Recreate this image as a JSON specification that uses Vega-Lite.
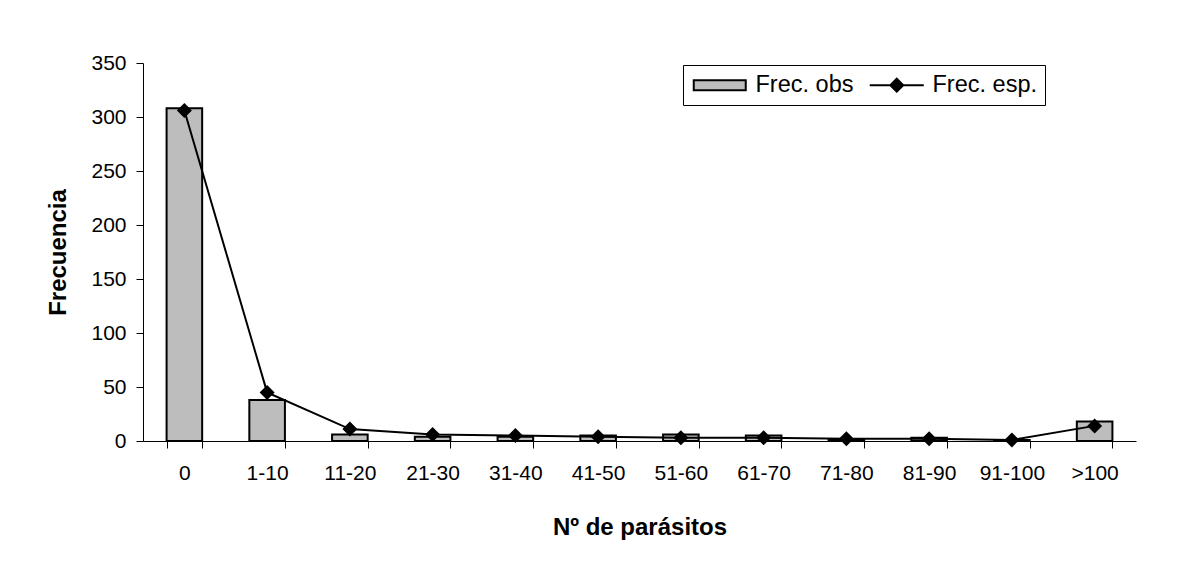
{
  "$schema": "https://vega.github.io/schema/vega-lite/v6.json",
  "autosize": {"type": "none"},
  "width": 993,
  "height": 378,
  "padding": {"left": 143, "top": 63, "right": 44, "bottom": 125},
  "background": "white",
  "config": {
    "font": "Liberation Sans",
    "view": {"stroke": null},
    "axis": {
      "domainColor": "black",
      "tickColor": "black",
      "labelColor": "black",
      "titleColor": "black",
      "labelFont": "Liberation Sans",
      "titleFont": "Liberation Sans",
      "labelFontSize": 21,
      "titleFontSize": 24,
      "titleFontWeight": "bold",
      "grid": false,
      "domainWidth": 1,
      "tickWidth": 1
    },
    "legend": {
      "orient": "none",
      "legendX": 540,
      "legendY": 2,
      "direction": "horizontal",
      "strokeColor": "black",
      "fillColor": "white",
      "padding": 8,
      "symbolSize": 400,
      "symbolOffset": 17,
      "symbolStrokeWidth": 2,
      "labelFont": "Liberation Sans",
      "labelFontSize": 23.5,
      "labelColor": "black",
      "labelOffset": 24,
      "columnPadding": 11,
      "symbolOpacity": 1
    }
  },
  "data": {
    "values": [
      {"cat": "0", "serie": "Frec. obs", "v": 308},
      {"cat": "1-10", "serie": "Frec. obs", "v": 38},
      {"cat": "11-20", "serie": "Frec. obs", "v": 6},
      {"cat": "21-30", "serie": "Frec. obs", "v": 4},
      {"cat": "31-40", "serie": "Frec. obs", "v": 4},
      {"cat": "41-50", "serie": "Frec. obs", "v": 5},
      {"cat": "51-60", "serie": "Frec. obs", "v": 6},
      {"cat": "61-70", "serie": "Frec. obs", "v": 5},
      {"cat": "71-80", "serie": "Frec. obs", "v": 1},
      {"cat": "81-90", "serie": "Frec. obs", "v": 3},
      {"cat": "91-100", "serie": "Frec. obs", "v": 1},
      {"cat": ">100", "serie": "Frec. obs", "v": 18},
      {"cat": "0", "serie": "Frec. esp.", "v": 306},
      {"cat": "1-10", "serie": "Frec. esp.", "v": 45},
      {"cat": "11-20", "serie": "Frec. esp.", "v": 11},
      {"cat": "21-30", "serie": "Frec. esp.", "v": 6},
      {"cat": "31-40", "serie": "Frec. esp.", "v": 5},
      {"cat": "41-50", "serie": "Frec. esp.", "v": 4},
      {"cat": "51-60", "serie": "Frec. esp.", "v": 3},
      {"cat": "61-70", "serie": "Frec. esp.", "v": 3},
      {"cat": "71-80", "serie": "Frec. esp.", "v": 2},
      {"cat": "81-90", "serie": "Frec. esp.", "v": 2},
      {"cat": "91-100", "serie": "Frec. esp.", "v": 1},
      {"cat": ">100", "serie": "Frec. esp.", "v": 14}
    ]
  },
  "encoding": {
    "x": {
      "field": "cat",
      "type": "nominal",
      "sort": null,
      "scale": {"paddingInner": 0.57, "paddingOuter": 0.285},
      "axis": {
        "title": "Nº de parásitos",
        "labelAngle": 0,
        "tickBand": "extent",
        "tickSize": 7,
        "labelPadding": 14,
        "titlePadding": 32
      }
    },
    "y": {
      "field": "v",
      "type": "quantitative",
      "scale": {"domain": [0, 350], "nice": false},
      "axis": {
        "title": "Frecuencia",
        "values": [0, 50, 100, 150, 200, 250, 300, 350],
        "tickSize": 7,
        "labelPadding": 10,
        "titleX": -85,
        "titleY": 189,
        "titleAngle": -90,
        "titleAlign": "center",
        "titleBaseline": "middle"
      }
    }
  },
  "layer": [
    {
      "transform": [{"filter": "datum.serie == 'Frec. obs'"}],
      "mark": {"type": "bar", "fill": "#bdbdbd", "stroke": "black", "strokeWidth": 2}
    },
    {
      "transform": [{"filter": "datum.serie == 'Frec. esp.'"}],
      "mark": {"type": "line", "color": "black", "strokeWidth": 2}
    },
    {
      "transform": [{"filter": "datum.serie == 'Frec. esp.'"}],
      "mark": {"type": "point", "shape": "diamond", "filled": true, "color": "black", "size": 225, "opacity": 1}
    },
    {
      "transform": [{"filter": "datum.serie == 'Frec. esp.'"}],
      "mark": {"type": "point", "filled": true, "strokeWidth": 2, "opacity": 0},
      "encoding": {
        "shape": {
          "field": "serie",
          "type": "nominal",
          "scale": {
            "domain": ["Frec. obs", "Frec. esp."],
            "range": ["M-2.6,-0.5H2.6V0.5H-2.6Z", "M-2.7,0H2.7M0,-0.65L0.65,0L0,0.65L-0.65,0Z"]
          },
          "legend": {"title": null}
        },
        "fill": {
          "field": "serie",
          "type": "nominal",
          "scale": {"domain": ["Frec. obs", "Frec. esp."], "range": ["#bdbdbd", "black"]},
          "legend": {"title": null}
        },
        "stroke": {
          "field": "serie",
          "type": "nominal",
          "scale": {"domain": ["Frec. obs", "Frec. esp."], "range": ["black", "black"]},
          "legend": {"title": null}
        }
      }
    }
  ]
}
